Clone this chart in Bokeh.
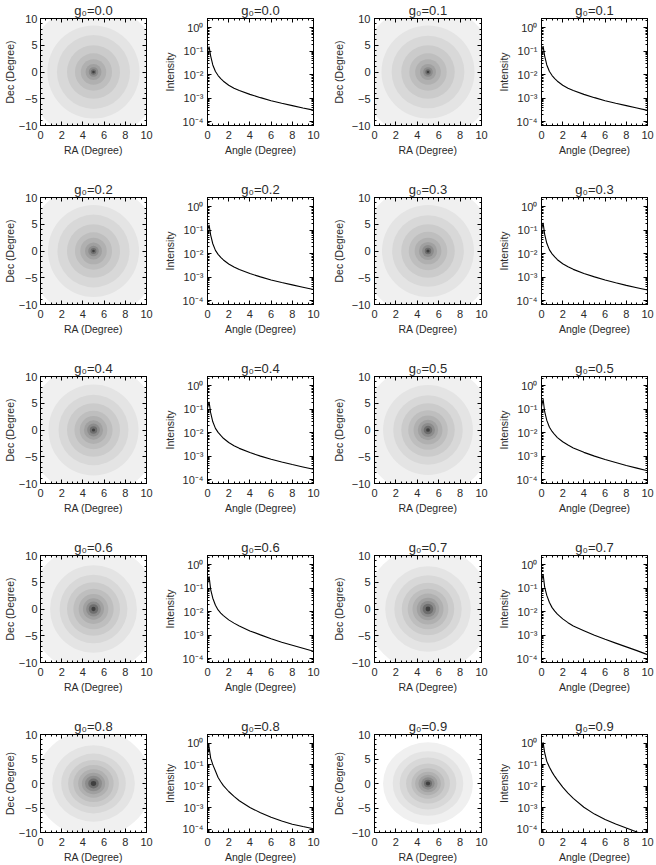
from bokeh.plotting import figure
from bokeh.layouts import row, column
from bokeh.models import (Range1d, LinearAxis, LogAxis, SingleIntervalTicker, LogTicker,
                          CustomJSTickFormatter, ColumnDataSource)
from bokeh.embed import file_html
from bokeh.resources import INLINE

# ---------------- data ----------------
g_labels = ["0.0", "0.1", "0.2", "0.3", "0.4", "0.5", "0.6", "0.7", "0.8", "0.9"]

# radial intensity profiles (log10 intensity)
angle_deg = [0, 0.15, 0.3, 0.5, 0.75, 1, 1.25, 1.5, 2, 2.5, 3, 4, 5, 6, 7, 8, 9, 10]
log_int_g00 = [-1.00, -0.80, -1.20, -1.58, -1.86, -2.03, -2.16, -2.27, -2.44, -2.57, -2.67, -2.83, -2.97, -3.10, -3.21, -3.31, -3.41, -3.50]
log_int_g01 = [-1.00, -0.78, -1.20, -1.58, -1.86, -2.03, -2.16, -2.27, -2.44, -2.57, -2.67, -2.83, -2.97, -3.10, -3.21, -3.31, -3.41, -3.51]
log_int_g02 = [-1.00, -0.77, -1.20, -1.57, -1.85, -2.02, -2.15, -2.26, -2.43, -2.56, -2.67, -2.84, -2.98, -3.11, -3.22, -3.32, -3.42, -3.52]
log_int_g03 = [-0.97, -0.68, -1.17, -1.55, -1.83, -2.00, -2.13, -2.25, -2.42, -2.55, -2.66, -2.84, -2.98, -3.11, -3.23, -3.34, -3.44, -3.54]
log_int_g04 = [-0.95, -0.68, -1.15, -1.53, -1.81, -1.98, -2.11, -2.23, -2.41, -2.55, -2.66, -2.84, -2.99, -3.12, -3.24, -3.35, -3.45, -3.55]
log_int_g05 = [-0.90, -0.56, -1.10, -1.47, -1.76, -1.94, -2.08, -2.20, -2.38, -2.52, -2.64, -2.83, -2.99, -3.13, -3.26, -3.39, -3.50, -3.61]
log_int_g06 = [-0.80, -0.49, -1.05, -1.42, -1.72, -1.92, -2.05, -2.16, -2.34, -2.48, -2.60, -2.81, -2.98, -3.14, -3.29, -3.42, -3.55, -3.68]
log_int_g07 = [-0.70, -0.39, -0.95, -1.30, -1.60, -1.82, -1.97, -2.10, -2.30, -2.46, -2.60, -2.80, -3.00, -3.17, -3.33, -3.49, -3.65, -3.82]
log_int_g08 = [-0.50, -0.20, -0.70, -1.00, -1.30, -1.60, -1.80, -1.98, -2.25, -2.48, -2.68, -2.99, -3.24, -3.45, -3.62, -3.77, -3.88, -3.98]
log_int_g09 = [-0.25, 0.03, -0.45, -0.85, -1.12, -1.35, -1.55, -1.72, -2.05, -2.33, -2.57, -2.98, -3.30, -3.55, -3.76, -3.95, -4.13, -4.30]
log_profiles = [log_int_g00, log_int_g01, log_int_g02, log_int_g03, log_int_g04,
                log_int_g05, log_int_g06, log_int_g07, log_int_g08, log_int_g09]

# filled-contour bands of the sky images: outer radius of each band
# (fraction of the half-width of the map), outermost first
band_gray = ["#f0f0f0", "#e4e4e4", "#d8d8d8", "#cbcbcb", "#bebebe",
             "#b0b0b0", "#a0a0a0", "#8c8c8c", "#6e6e6e", "#404040"]
band_r_g00 = [1.27, 0.87, 0.69, 0.50, 0.35, 0.24, 0.15, 0.09, 0.05, 0.025]
band_r_g01 = [1.27, 0.87, 0.68, 0.50, 0.35, 0.24, 0.15, 0.09, 0.05, 0.025]
band_r_g02 = [1.26, 0.86, 0.68, 0.50, 0.35, 0.25, 0.16, 0.10, 0.055, 0.025]
band_r_g03 = [1.26, 0.86, 0.67, 0.50, 0.36, 0.25, 0.17, 0.11, 0.06, 0.03]
band_r_g04 = [1.25, 0.85, 0.66, 0.50, 0.36, 0.26, 0.18, 0.12, 0.07, 0.03]
band_r_g05 = [1.24, 0.84, 0.65, 0.50, 0.37, 0.27, 0.19, 0.13, 0.08, 0.035]
band_r_g06 = [1.22, 0.82, 0.64, 0.50, 0.38, 0.28, 0.20, 0.14, 0.09, 0.04]
band_r_g07 = [1.18, 0.80, 0.63, 0.49, 0.38, 0.29, 0.21, 0.15, 0.10, 0.045]
band_r_g08 = [1.10, 0.78, 0.61, 0.48, 0.38, 0.29, 0.22, 0.16, 0.10, 0.05]
band_r_g09 = [0.84, 0.66, 0.53, 0.41, 0.31, 0.24, 0.18, 0.125, 0.075, 0.04]
band_radii = [band_r_g00, band_r_g01, band_r_g02, band_r_g03, band_r_g04,
              band_r_g05, band_r_g06, band_r_g07, band_r_g08, band_r_g09]

ra_range = (0, 10)
dec_range = (-10, 10)
center_ra = 5.0
center_dec = 0.0
angle_range = (0, 10)
intensity_range = (7e-5, 2.5)

# ---------------- style ----------------
FONT = "Liberation Sans"
TXT = "#2a2a2a"
COL_W = [160, 168, 166, 162]
COL_LEFT = [38, 46, 46, 46]
COL_RIGHT = [14, 15, 13, 9]
YLAB_STANDOFF = [0, 4, 4, 4]
YTICK_STANDOFF = [3, 4, 4, 4]
ROW_H = [179, 179, 179, 179, 149]
ROW_BOTTOM = [54, 54, 54, 54, 28]

NEG_FMT = "return tick < 0 ? '\\u2212' + Math.abs(tick) : String(tick);"
LOG_FMT = """
const sup = {'-':'\\u207b','0':'\\u2070','1':'\\u00b9','2':'\\u00b2','3':'\\u00b3','4':'\\u2074',
             '5':'\\u2075','6':'\\u2076','7':'\\u2077','8':'\\u2078','9':'\\u2079'};
const e = Math.round(Math.log10(tick));
return '10' + String(e).split('').map(c => sup[c]).join('');
"""
BLANK_FMT = "return '';"


def style_axis(ax, labelled, label="", label_standoff=2, tick_standoff=5):
    ax.major_tick_in = 4
    ax.major_tick_out = 0
    ax.minor_tick_in = 2
    ax.minor_tick_out = 0
    ax.axis_line_color = "black"
    ax.major_tick_line_color = "black"
    ax.minor_tick_line_color = "black"
    if labelled:
        ax.major_label_text_font = FONT
        ax.major_label_text_font_size = "11px"
        ax.major_label_text_color = TXT
        ax.major_label_standoff = tick_standoff
        ax.axis_label = label
        ax.axis_label_text_font = FONT
        ax.axis_label_text_font_size = "10.5px"
        ax.axis_label_text_font_style = "normal"
        ax.axis_label_text_color = TXT
        ax.axis_label_standoff = label_standoff
    else:
        ax.formatter = CustomJSTickFormatter(code=BLANK_FMT)
        ax.major_label_text_font_size = "1px"
        ax.major_label_standoff = 0
        ax.axis_label = None


def base_fig(ci, ri, is_log):
    kw = dict(width=COL_W[ci], height=ROW_H[ri], output_backend="svg",
              toolbar_location=None, tools="")
    if is_log:
        p = figure(x_range=Range1d(*angle_range), y_range=Range1d(*intensity_range),
                   y_axis_type="log", **kw)
    else:
        p = figure(x_range=Range1d(*ra_range), y_range=Range1d(*dec_range), **kw)
    p.min_border_left = COL_LEFT[ci]
    p.min_border_right = COL_RIGHT[ci]
    p.min_border_top = 17
    p.min_border_bottom = ROW_BOTTOM[ri]
    p.xgrid.visible = False
    p.ygrid.visible = False
    p.outline_line_color = "black"
    p.outline_line_width = 1
    p.background_fill_color = "white"
    p.border_fill_color = "white"
    p.title.text_font = FONT
    p.title.text_font_size = "13px"
    p.title.text_font_style = "normal"
    p.title.text_color = TXT
    p.title.align = "center"
    p.title.standoff = 1
    return p


def image_fig(gi, ci, ri):
    p = base_fig(ci, ri, False)
    p.title.text = "g\u2080=" + g_labels[gi]
    hx = (ra_range[1] - ra_range[0]) / 2
    hy = (dec_range[1] - dec_range[0]) / 2
    radii = band_radii[gi]
    src = ColumnDataSource(dict(
        x=[center_ra] * len(radii), y=[center_dec] * len(radii),
        w=[2 * r * hx for r in radii], h=[2 * r * hy for r in radii],
        c=band_gray[:len(radii)]))
    p.ellipse(x="x", y="y", width="w", height="h", fill_color="c",
              line_color=None, source=src)
    p.xaxis.ticker = SingleIntervalTicker(interval=2, num_minor_ticks=4)
    p.yaxis.ticker = SingleIntervalTicker(interval=5, num_minor_ticks=5)
    p.yaxis.formatter = CustomJSTickFormatter(code=NEG_FMT)
    style_axis(p.xaxis[0], True, "RA (Degree)", 2)
    style_axis(p.yaxis[0], True, "Dec (Degree)", YLAB_STANDOFF[ci], YTICK_STANDOFF[ci])
    top = LinearAxis(ticker=SingleIntervalTicker(interval=2, num_minor_ticks=4))
    right = LinearAxis(ticker=SingleIntervalTicker(interval=5, num_minor_ticks=5))
    style_axis(top, False)
    style_axis(right, False)
    p.add_layout(top, "above")
    p.add_layout(right, "right")
    return p


def profile_fig(gi, ci, ri):
    p = base_fig(ci, ri, True)
    p.title.text = "g\u2080=" + g_labels[gi]
    intensity = [10 ** v for v in log_profiles[gi]]
    p.line(angle_deg, intensity, line_color="black", line_width=1.1)
    p.xaxis.ticker = SingleIntervalTicker(interval=2, num_minor_ticks=4)
    p.yaxis.ticker = LogTicker(num_minor_ticks=10)
    p.yaxis.formatter = CustomJSTickFormatter(code=LOG_FMT)
    style_axis(p.xaxis[0], True, "Angle (Degree)", 2)
    style_axis(p.yaxis[0], True, "Intensity", YLAB_STANDOFF[ci], YTICK_STANDOFF[ci])
    top = LinearAxis(ticker=SingleIntervalTicker(interval=2, num_minor_ticks=4))
    right = LogAxis(ticker=LogTicker(num_minor_ticks=10))
    style_axis(top, False)
    style_axis(right, False)
    p.add_layout(top, "above")
    p.add_layout(right, "right")
    return p


rows = []
for ri in range(5):
    figs = []
    for k in range(2):
        gi = 2 * ri + k
        figs.append(image_fig(gi, 2 * k, ri))
        figs.append(profile_fig(gi, 2 * k + 1, ri))
    rows.append(row(*figs, spacing=0))
layout = column(*rows, spacing=0)

open("out.html", "w").write(file_html(layout, INLINE))
